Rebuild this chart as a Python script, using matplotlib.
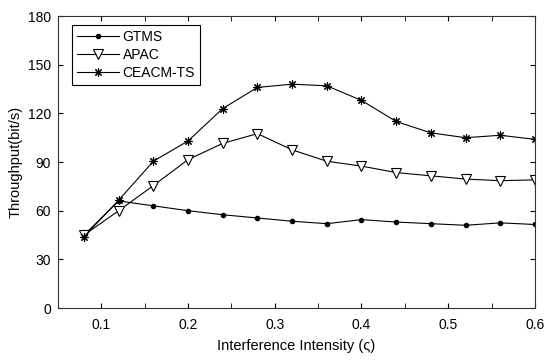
import matplotlib
matplotlib.use('Agg')
import matplotlib.pyplot as plt
from matplotlib.ticker import MultipleLocator

plt.rcParams['font.family'] = ['Liberation Sans', 'DejaVu Sans']

intensity = [0.08, 0.12, 0.16, 0.20, 0.24, 0.28, 0.32, 0.36, 0.40, 0.44, 0.48, 0.52, 0.56, 0.60]
gtms = [45, 66, 63, 60, 57.5, 55.5, 53.5, 52, 54.5, 53, 52, 51, 52.5, 51.5]
apac = [45, 60, 75.5, 91.5, 101.5, 107.5, 97.5, 90.5, 87.5, 83.5, 81.5, 79.5, 78.5, 79]
ceacm = [44, 66.5, 90.5, 103, 123, 136, 138, 137, 128, 115, 108, 105, 106.5, 104]

fig = plt.figure(figsize=(5.5, 3.6), dpi=100)
ax = fig.add_axes([0.1055, 0.1444, 0.867, 0.811])

ax.plot(intensity, gtms, color='black', lw=0.8, marker='o', ms=3, label='GTMS')
ax.plot(intensity, apac, color='black', lw=0.8, marker='v', ms=7, mfc='white',
        mec='black', mew=0.8, label='APAC')
ax.plot(intensity, ceacm, color='black', lw=0.8, marker=(8, 2, 0), ms=6,
        mew=0.8, label='CEACM-TS')

ax.set_xlim(0.05, 0.6)
ax.set_ylim(0, 180)
ax.xaxis.set_major_locator(MultipleLocator(0.1))
ax.xaxis.set_minor_locator(MultipleLocator(0.05))
ax.yaxis.set_major_locator(MultipleLocator(30))
ax.tick_params(which='both', direction='in', top=True, right=True, labelsize=10)
ax.tick_params(which='both', length=3.5)
ax.tick_params(axis='x', pad=7)
ax.tick_params(axis='y', pad=5)
for s in ax.spines.values():
    s.set_linewidth(0.8)
    s.set_color('#333333')

ax.set_xlabel('Interference Intensity (ς)', fontsize=10.5, labelpad=5)
ax.set_ylabel('Throughput(bit/s)', fontsize=10.5, labelpad=4)

leg = ax.legend(loc='upper left', bbox_to_anchor=(72 / 550, 1 - 25 / 360),
                bbox_transform=fig.transFigure, borderaxespad=0,
                fontsize=10, fancybox=False, edgecolor='black', framealpha=1,
                handlelength=3, handletextpad=0.3, labelspacing=0.3, borderpad=0.35)
leg.get_frame().set_linewidth(0.8)

fig.savefig('out.png', dpi=100)
